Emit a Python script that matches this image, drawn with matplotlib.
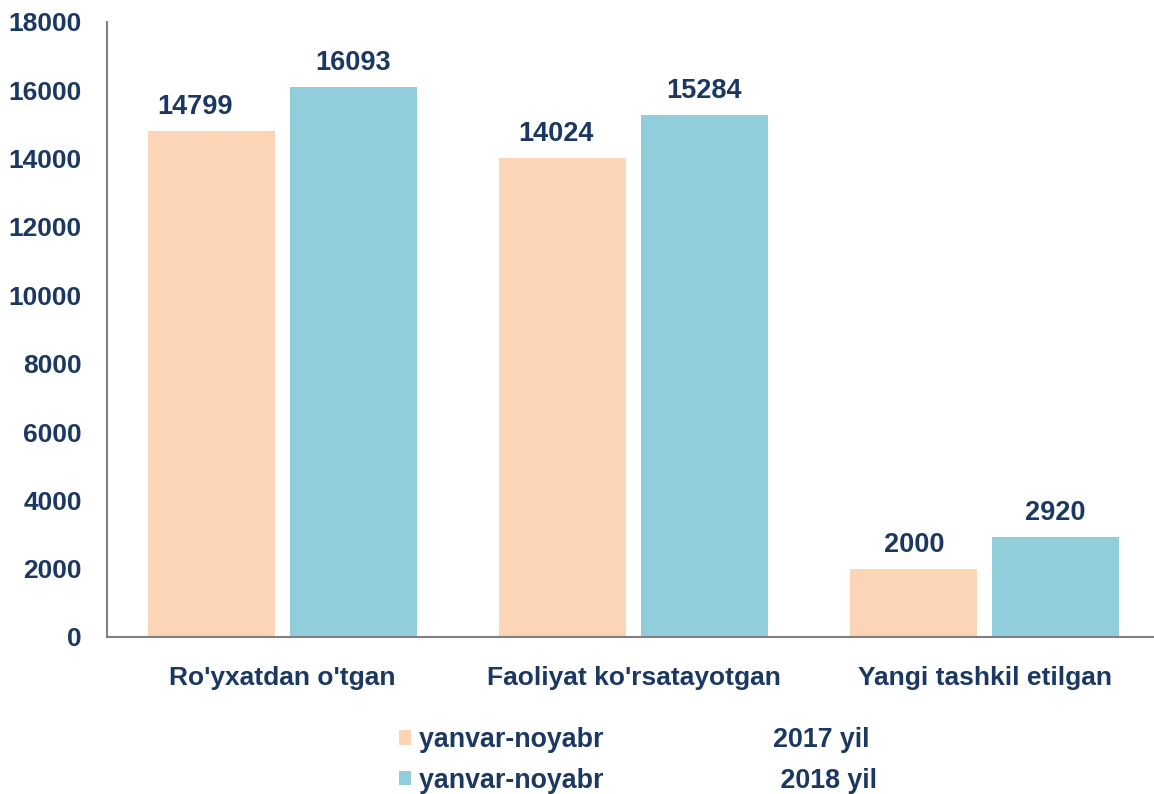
import matplotlib
matplotlib.use("Agg")
import matplotlib.pyplot as plt
import numpy as np

categories = ["Ro'yxatdan o'tgan", "Faoliyat ko'rsatayotgan", "Yangi tashkil etilgan"]
series_names = ["yanvar-noyabr", "yanvar-noyabr"]
series_years = ["2017 yil", "2018 yil"]
values_2017 = [14799, 14024, 2000]
values_2018 = [16093, 15284, 2920]
yticks = [0, 2000, 4000, 6000, 8000, 10000, 12000, 14000, 16000, 18000]

# small manual horizontal shifts (points) of the value labels, as in the reference
label_dx_2017 = [-12, -5, 0]
label_dx_2018 = [0, 0, 0]

navy = "#1B3862"
c17 = "#FBD5B5"
c18 = "#92CDDC"
plt.rcParams['font.family'] = ['Liberation Sans', 'DejaVu Sans']
plt.rcParams['font.weight'] = 'bold'

W, H = 1154, 794
fig = plt.figure(figsize=(W / 100, H / 100), dpi=100)
left, right, top, bottom = 107, 1160, 22, 637
ax = fig.add_axes([left / W, 1 - bottom / H, (right - left) / W, (bottom - top) / H])

x = np.arange(len(categories))
bw = 0.362
off = 0.201
b1 = ax.bar(x - off, values_2017, bw, color=c17, label=series_names[0])
b2 = ax.bar(x + off, values_2018, bw, color=c18, label=series_names[1])

fs = 19
vfs = 19.5
for bars, dxs in ((b1, label_dx_2017), (b2, label_dx_2018)):
    for r, dx in zip(bars, dxs):
        ax.annotate(f"{int(r.get_height())}", (r.get_x() + r.get_width() / 2, r.get_height()),
                    xytext=(dx, 8), textcoords="offset points", ha="center", va="bottom",
                    fontsize=vfs, fontweight="bold", color=navy)

ax.set_xlim(-0.5, 2.5)
ax.set_ylim(0, 18000)
ax.set_yticks(yticks)
ax.set_yticklabels([str(v) for v in yticks], fontsize=fs, fontweight="bold", color=navy)
ax.set_xticks(x)
ax.set_xticklabels(categories, fontsize=fs, fontweight="bold", color=navy)
ax.tick_params(axis="y", length=0, pad=18)
ax.tick_params(axis="x", length=0, pad=21)
for s in ("top", "right"):
    ax.spines[s].set_visible(False)
for s in ("left", "bottom"):
    ax.spines[s].set_color("#808080")
    ax.spines[s].set_linewidth(1.5)

labels = [series_names[0] + " " * 23 + series_years[0],
          series_names[1] + " " * 24 + series_years[1]]
leg = fig.legend([b1, b2], labels, loc="upper left", bbox_to_anchor=(399 / W, 1 - 727 / H),
                 frameon=False, fontsize=19.3, handlelength=0.45, handleheight=0.45,
                 handletextpad=0.3, labelspacing=0.55, borderpad=0, borderaxespad=0)
for t in leg.get_texts():
    t.set_color(navy)
    t.set_fontweight("bold")

fig.savefig("out.png", dpi=100)
